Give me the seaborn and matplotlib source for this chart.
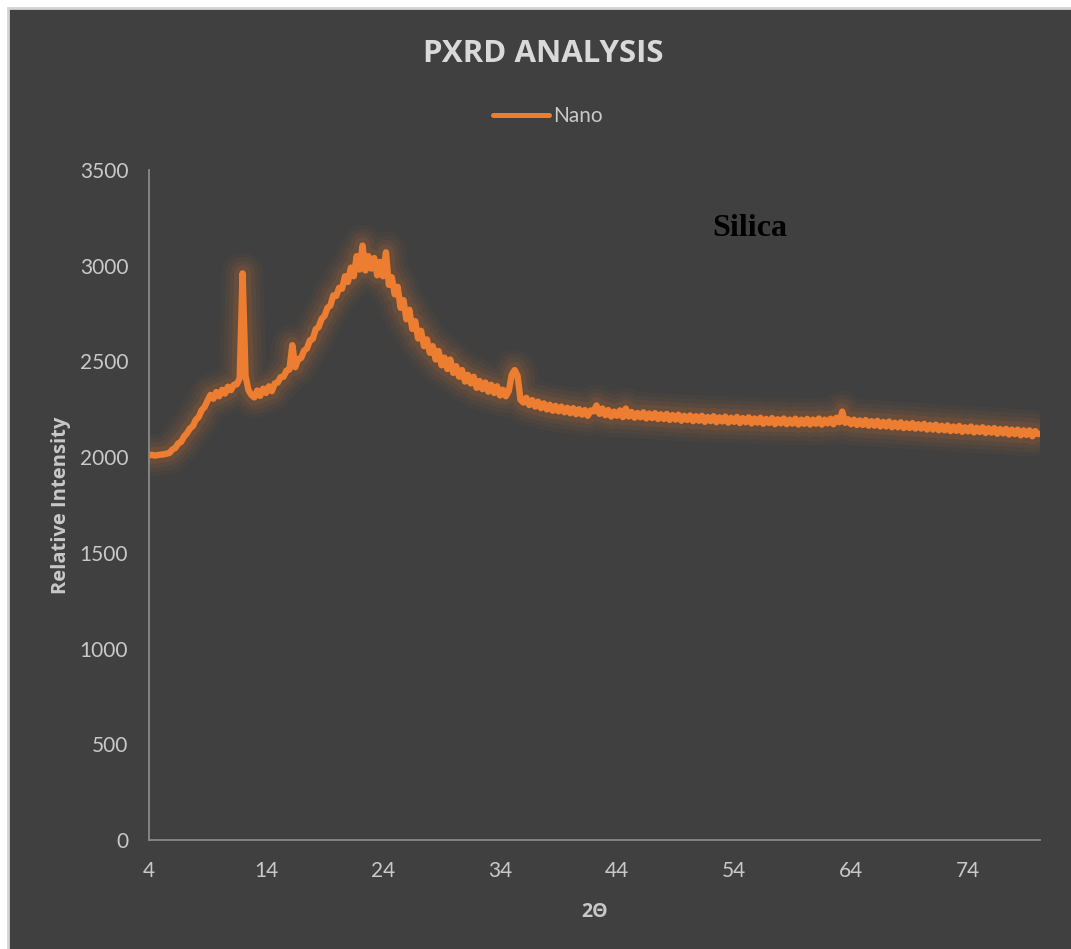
import numpy as np
import pandas as pd
import matplotlib
matplotlib.use("Agg")
import matplotlib.pyplot as plt
import matplotlib.patheffects as pe
from matplotlib.patches import Rectangle
import seaborn as sns

# ---- data ----
two_theta_start = 4.0
two_theta_step = 0.25
intensity = [
    2010, 2012, 2008, 2011,  # 4
    2013, 2015, 2018, 2022,  # 5
    2040, 2048, 2072, 2080,  # 6
    2108, 2125, 2150, 2162,  # 7
    2195, 2210, 2245, 2262,  # 8
    2295, 2325, 2305, 2340,  # 9
    2318, 2352, 2332, 2368,  # 10
    2350, 2378, 2380, 2412,  # 11
    2960, 2425, 2350, 2325,  # 12
    2312, 2348, 2320, 2358,  # 13
    2335, 2370, 2345, 2385,  # 14
    2390, 2418, 2420, 2452,  # 15
    2458, 2585, 2470, 2512,  # 16
    2518, 2556, 2568, 2610,  # 17
    2618, 2668, 2680, 2722,  # 18
    2738, 2780, 2792, 2845,  # 19
    2842, 2885, 2880, 2945,  # 20
    2915, 2990, 2945, 3050,  # 21
    2980, 3105, 2975, 3050,  # 22
    2985, 3040, 2950, 3020,  # 23
    2945, 3070, 2900, 2940,  # 24
    2850, 2890, 2780, 2820,  # 25
    2720, 2770, 2670, 2710,  # 26
    2620, 2660, 2580, 2615,  # 27
    2545, 2580, 2510, 2555,  # 28
    2480, 2520, 2460, 2510,  # 29
    2440, 2475, 2420, 2455,  # 30
    2395, 2430, 2385, 2420,  # 31
    2362, 2398, 2355, 2390,  # 32
    2342, 2378, 2335, 2370,  # 33
    2322, 2352, 2318, 2345,  # 34
    2430, 2455, 2425, 2300,  # 35
    2285, 2310, 2272, 2298,  # 36
    2264, 2290, 2256, 2281,  # 37
    2249, 2274, 2242, 2268,  # 38
    2239, 2264, 2234, 2258,  # 39
    2229, 2256, 2224, 2251,  # 40
    2222, 2246, 2216, 2244,  # 41
    2239, 2270, 2226, 2254,  # 42
    2219, 2246, 2212, 2238,  # 43
    2216, 2244, 2209, 2254,  # 44
    2212, 2236, 2206, 2231,  # 45
    2208, 2234, 2202, 2228,  # 46
    2204, 2230, 2199, 2224,  # 47
    2199, 2226, 2194, 2220,  # 48
    2196, 2222, 2190, 2216,  # 49
    2194, 2218, 2188, 2214,  # 50
    2190, 2216, 2184, 2210,  # 51
    2188, 2214, 2182, 2208,  # 52
    2186, 2212, 2180, 2206,  # 53
    2184, 2210, 2178, 2204,  # 54
    2182, 2208, 2176, 2202,  # 55
    2180, 2206, 2174, 2200,  # 56
    2178, 2204, 2172, 2198,  # 57
    2176, 2202, 2172, 2196,  # 58
    2175, 2201, 2170, 2196,  # 59
    2174, 2200, 2170, 2196,  # 60
    2174, 2202, 2170, 2196,  # 61
    2176, 2201, 2172, 2206,  # 62
    2182, 2238, 2179, 2198,  # 63
    2172, 2196, 2168, 2192,  # 64
    2168, 2194, 2164, 2188,  # 65
    2164, 2190, 2160, 2184,  # 66
    2160, 2186, 2156, 2180,  # 67
    2156, 2182, 2152, 2176,  # 68
    2152, 2178, 2149, 2172,  # 69
    2149, 2174, 2144, 2168,  # 70
    2144, 2170, 2140, 2164,  # 71
    2140, 2166, 2136, 2160,  # 72
    2137, 2163, 2132, 2156,  # 73
    2134, 2160, 2129, 2154,  # 74
    2131, 2156, 2126, 2151,  # 75
    2128, 2152, 2122, 2147,  # 76
    2124, 2148, 2118, 2144,  # 77
    2120, 2144, 2114, 2140,  # 78
    2116, 2140, 2109, 2136,  # 79
    2120,                    # 80
]
two_theta = two_theta_start + two_theta_step * np.arange(len(intensity))
series_name = "Nano"
x_ticks = [4, 14, 24, 34, 44, 54, 64, 74]
y_ticks = [0, 500, 1000, 1500, 2000, 2500, 3000, 3500]
title = "PXRD ANALYSIS"
x_label = "2Θ"
y_label = "Relative Intensity"
annotation = "Silica"

df = pd.DataFrame({"2theta": two_theta, "intensity": intensity, "series": series_name})

# ---- style ----
BG = "#404040"
ORANGE = "#ED7D31"
TXT = "#c9c9c9"
sns.set_theme(style="dark")
plt.rcParams["font.family"] = ["Lato", "DejaVu Sans"]
plt.rcParams["axes.unicode_minus"] = False
BOLD_FAMILY = ["Open Sans", "DejaVu Sans"]

W, H = 1071, 949
fig = plt.figure(figsize=(W / 100, H / 100), dpi=100, facecolor="white")
# chart area with light frame (top/left visible)
frame = Rectangle((8 / W, -0.05), 1.1, 1.05 - 8 / H,
                  transform=fig.transFigure, facecolor=BG,
                  edgecolor="#d4d4d4", linewidth=2, zorder=-10)
fig.patches.append(frame)

ax = fig.add_axes([149 / W, 1 - 840 / H, (1040 - 149) / W, (840 - 170) / H])
ax.set_facecolor(BG)
ax.patch.set_alpha(0.0)

sns.lineplot(data=df, x="2theta", y="intensity", hue="series",
             palette=[ORANGE], linewidth=4.6, ax=ax, legend=True)
line = ax.get_lines()[0]
line.set_path_effects([
    pe.Stroke(linewidth=30, foreground=ORANGE, alpha=0.035),
    pe.Stroke(linewidth=24, foreground=ORANGE, alpha=0.05),
    pe.Stroke(linewidth=18, foreground=ORANGE, alpha=0.07),
    pe.Stroke(linewidth=12, foreground=ORANGE, alpha=0.10),
    pe.Normal(),
])
line.set_solid_joinstyle("round")
line.set_solid_capstyle("round")

ax.set_xlim(4, 80.15)
ax.set_ylim(0, 3500)
ax.set_xticks(x_ticks)
ax.set_yticks(y_ticks)
ax.grid(False)
ax.tick_params(axis="both", length=0, labelsize=15, colors=TXT, pad=15)
for s in ["top", "right"]:
    ax.spines[s].set_visible(False)
for s in ["left", "bottom"]:
    ax.spines[s].set_visible(True)
    ax.spines[s].set_color("#8a8a8a")
    ax.spines[s].set_linewidth(1.3)

ax.set_xlabel(x_label, fontsize=14, fontweight="bold", color=TXT,
              labelpad=15, family=BOLD_FAMILY)
ax.set_ylabel(y_label, fontsize=14.5, fontweight="bold", color=TXT,
              labelpad=6, family=BOLD_FAMILY)

fig.text(543 / W, 1 - 54 / H, title, ha="center", va="center",
         fontsize=22.5, fontweight="bold", color="#d9d9d9", family=BOLD_FAMILY)

leg = ax.legend(loc="center", bbox_to_anchor=(548 / W, 1 - 116 / H),
                bbox_transform=fig.transFigure, frameon=False, fontsize=15,
                handlelength=2.7, handletextpad=0.2, labelcolor=TXT)
for h in leg.get_lines():
    h.set_linewidth(3.6)
    h.set_path_effects([])

fig.text(712 / W, 1 - 228 / H, annotation, ha="left", va="center",
         fontsize=23, fontweight="bold", color="black",
         family=["Liberation Serif", "DejaVu Serif"])

fig.savefig("out.png", dpi=100, facecolor=fig.get_facecolor())
